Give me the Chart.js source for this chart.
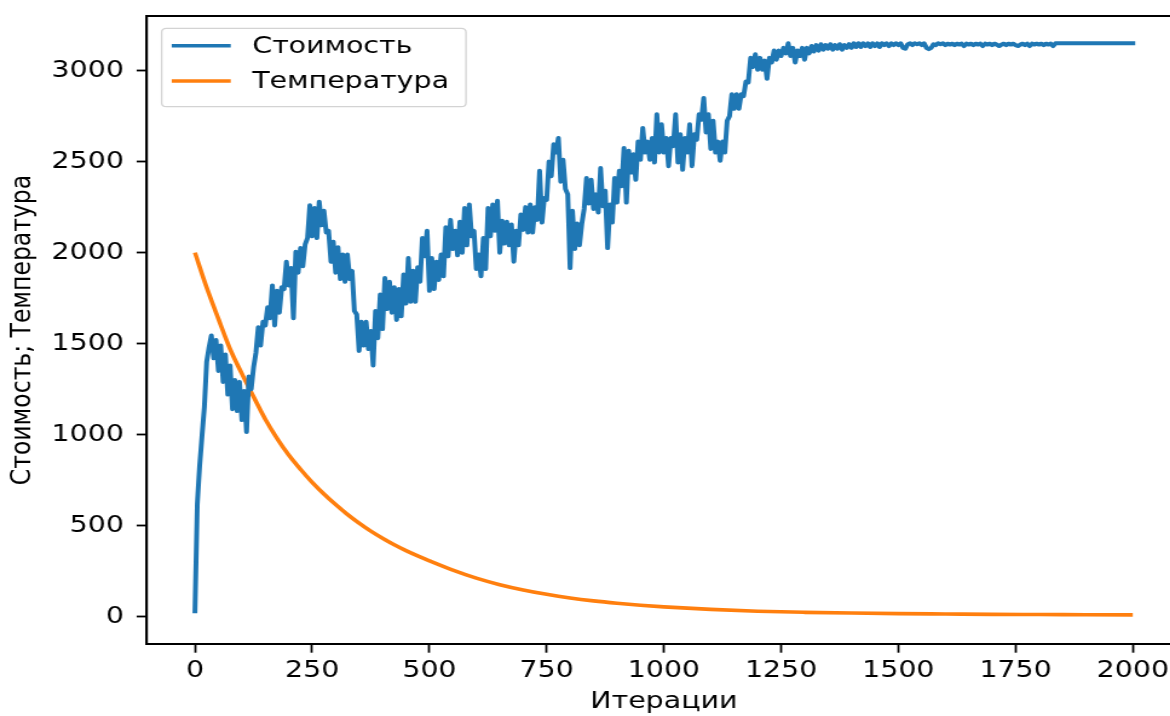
<!DOCTYPE html>
<html>
<head>
<meta charset="utf-8">
<script src="https://cdn.jsdelivr.net/npm/chart.js@4/dist/chart.umd.min.js"></script>
<style>
html, body { margin: 0; padding: 0; overflow: hidden; background: #ffffff; width: 1170px; height: 716px; }
#wrap { width: 990px; height: 716px; transform: scaleX(1.21); transform-origin: 0 0; }
canvas { display: block; }
</style>
</head>
<body>
<div id="wrap"><canvas id="c" width="990" height="716"></canvas></div>
<script>
// ---------- data ----------
const seriesLabels = ['Стоимость', 'Температура'];
const xAxisTitle = 'Итерации';
const yAxisTitle = 'Стоимость; Температура';
const xTickValues = [0, 250, 500, 750, 1000, 1250, 1500, 1750, 2000];
const yTickValues = [0, 500, 1000, 1500, 2000, 2500, 3000];

// cost, one reading every 5 iterations (0 .. 2000)
const costStep = 5;
const costValues = [
  30,620,830,990,1150,1400,1480,1545,1420,1520,1350,1490,1290,1440,1220,1380,1140,1300,1130,1290,
  1080,1240,1015,1320,1250,1370,1450,1590,1490,1620,1600,1700,1640,1820,1600,1790,1670,1810,1800,1950,
  1820,1915,1640,2005,1890,2025,1925,2045,2080,2260,2090,2245,2080,2280,2150,2230,2110,2120,1950,2060,
  1890,2030,1855,1990,1840,1990,1855,1900,1680,1660,1460,1620,1490,1620,1470,1570,1380,1680,1530,1770,
  1580,1860,1690,1840,1670,1810,1630,1800,1650,1880,1720,1970,1730,1900,1730,1920,1840,2080,1980,2120,
  1790,1970,1800,1950,1850,1990,1870,2140,1980,2180,2020,2120,1985,2170,2000,2245,2040,2265,2090,2120,
  1910,1990,1870,2080,1910,2245,2090,2265,2120,2285,2000,2175,2050,2170,2040,2155,1950,2120,2040,2210,
  2125,2250,2110,2265,2110,2250,2180,2450,2165,2300,2290,2500,2420,2595,2550,2630,2390,2510,2350,2320,
  1915,2230,2020,2160,2040,2160,2240,2410,2270,2400,2240,2320,2220,2465,2255,2340,2025,2265,2165,2410,
  2275,2450,2365,2575,2275,2560,2440,2540,2400,2610,2510,2685,2550,2610,2510,2630,2495,2760,2550,2705,
  2550,2630,2475,2630,2585,2760,2495,2650,2455,2630,2550,2705,2475,2650,2620,2760,2730,2850,2660,2760,
  2570,2725,2550,2610,2505,2610,2550,2725,2750,2870,2790,2870,2790,2870,2860,2940,2935,3070,3020,3090,
  3005,3070,3005,3055,2955,3070,3045,3110,3060,3110,3080,3125,3095,3150,3080,3125,3045,3110,3080,3125,
  3060,3125,3095,3135,3105,3140,3110,3145,3115,3140,3120,3145,3115,3140,3120,3145,3115,3140,3125,3145,
  3125,3150,3130,3150,3130,3150,3135,3150,3130,3150,3135,3150,3130,3150,3140,3150,3135,3150,3140,3150,
  3140,3150,3125,3120,3145,3150,3140,3150,3145,3150,3140,3150,3125,3118,3125,3145,3140,3150,3145,3150,
  3140,3148,3143,3148,3140,3148,3143,3148,3135,3148,3143,3148,3140,3148,3143,3148,3135,3148,3143,3148,
  3140,3148,3143,3135,3143,3148,3140,3148,3143,3148,3140,3135,3143,3148,3140,3148,3135,3148,3143,3148,
  3143,3148,3140,3148,3143,3148,3135,3150,3150,3150,3150,3150,3150,3150,3150,3150,3150,3150,3150,3150,
  3150,3150,3150,3150,3150,3150,3150,3150,3150,3150,3150,3150,3150,3150,3150,3150,3150,3150,3150,3150,
  3150
];

// temperature, readings at these iterations
const tempIterations = [0,25,50,75,100,125,150,175,200,225,250,275,300,325,350,375,400,425,450,475,500,
  550,600,650,700,750,800,850,900,950,1000,1100,1200,1300,1400,1500,1600,1700,1800,1900,2000];
const tempValues = [2000,1808,1636,1470,1335,1208,1085,980,888,810,738,674,616,562,514,470,431,395,363,334,307,
  256,212,176,147,123,103,87,74,63,54,40,30,24,20,17,15,13,12,11,10];

const seriesColors = ['#1f77b4', '#ff7f0e'];

// ---------- chart ----------
const FONT = { family: 'DejaVu Sans', size: 23.5, lineHeight: 1.2 };
Chart.defaults.font.family = FONT.family;
Chart.defaults.font.size = FONT.size;
Chart.defaults.color = '#000000';

const framePlugin = {
  id: 'frame',
  afterDatasetsDraw(chart) {
    const a = chart.chartArea, ctx = chart.ctx;
    ctx.save();
    ctx.strokeStyle = '#000000';
    ctx.lineWidth = 2;
    ctx.strokeRect(a.left, a.top, a.right - a.left, a.bottom - a.top);
    ctx.restore();
  }
};

const legendPlugin = {
  id: 'mplLegend',
  afterDraw(chart, args, o) {
    const ctx = chart.ctx, a = chart.chartArea;
    const x0 = a.left + o.offsetX, y0 = a.top + o.offsetY;
    ctx.save();
    const r = 4;
    ctx.beginPath();
    ctx.moveTo(x0 + r, y0);
    ctx.lineTo(x0 + o.width - r, y0);
    ctx.quadraticCurveTo(x0 + o.width, y0, x0 + o.width, y0 + r);
    ctx.lineTo(x0 + o.width, y0 + o.height - r);
    ctx.quadraticCurveTo(x0 + o.width, y0 + o.height, x0 + o.width - r, y0 + o.height);
    ctx.lineTo(x0 + r, y0 + o.height);
    ctx.quadraticCurveTo(x0, y0 + o.height, x0, y0 + o.height - r);
    ctx.lineTo(x0, y0 + r);
    ctx.quadraticCurveTo(x0, y0, x0 + r, y0);
    ctx.closePath();
    ctx.fillStyle = 'rgba(255,255,255,0.8)';
    ctx.fill();
    ctx.strokeStyle = '#d3d3d3';
    ctx.lineWidth = 1.3;
    ctx.stroke();
    chart.data.datasets.forEach((ds, i) => {
      const cy = y0 + o.firstRow + i * o.rowGap;
      ctx.beginPath();
      ctx.strokeStyle = ds.borderColor;
      ctx.lineWidth = o.lineWidth;
      ctx.lineCap = 'butt';
      ctx.moveTo(x0 + o.lineStart, cy);
      ctx.lineTo(x0 + o.lineStart + o.lineLen, cy);
      ctx.stroke();
      ctx.fillStyle = '#000000';
      ctx.font = FONT.size + 'px "' + FONT.family + '"';
      ctx.textBaseline = 'middle';
      ctx.textAlign = 'left';
      ctx.fillText(ds.label, x0 + o.textStart, cy + 1);
    });
    ctx.restore();
  }
};

const costPoints = costValues.map((v, k) => ({ x: k * costStep, y: v }));
const tempPoints = tempValues.map((v, k) => ({ x: tempIterations[k], y: v }));

new Chart(document.getElementById('c'), {
  type: 'line',
  data: {
    datasets: [
      { label: seriesLabels[0], data: costPoints, borderColor: seriesColors[0], backgroundColor: seriesColors[0],
        borderWidth: 4, pointRadius: 0, tension: 0, borderJoinStyle: 'round', borderCapStyle: 'square', fill: false },
      { label: seriesLabels[1], data: tempPoints, borderColor: seriesColors[1], backgroundColor: seriesColors[1],
        borderWidth: 3.6, pointRadius: 0, cubicInterpolationMode: 'monotone', borderJoinStyle: 'round', fill: false }
    ]
  },
  options: {
    responsive: false,
    devicePixelRatio: 1,
    animation: false,
    events: [],
    layout: { padding: { left: 0, top: 16, right: 13.9, bottom: 0 } },
    plugins: {
      legend: { display: false },
      tooltip: { enabled: false },
      mplLegend: { offsetX: 12.4, offsetY: 12.3, width: 251.5, height: 78.4, lineWidth: 3.4,
                   firstRow: 17.4, rowGap: 35.3, lineStart: 8.3, lineLen: 48.8, textStart: 74.9 }
    },
    scales: {
      x: {
        type: 'linear', min: -103, max: 2103,
        afterBuildTicks: s => { s.ticks = xTickValues.map(v => ({ value: v })); },
        afterFit: s => { s.height = 72; s.paddingLeft = 0; s.paddingRight = 0; },
        ticks: { padding: 4, maxRotation: 0, autoSkip: false, callback: v => String(v), font: FONT },
        grid: { display: true, drawOnChartArea: false, drawTicks: true, tickLength: 8.7, tickWidth: 1.8, tickColor: '#000000' },
        border: { display: true, color: '#000000', width: 2 },
        title: { display: true, text: xAxisTitle, font: FONT, padding: { top: 0, bottom: 0 }, color: '#000000' }
      },
      y: {
        type: 'linear', min: -150, max: 3300,
        afterBuildTicks: s => { s.ticks = yTickValues.map(v => ({ value: v })); },
        afterFit: s => { s.width = 121.2; s.paddingTop = 0; s.paddingBottom = 0; },
        ticks: { padding: 10.5, autoSkip: false, callback: v => String(v), font: FONT },
        grid: { display: true, drawOnChartArea: false, drawTicks: true, tickLength: 8.3, tickWidth: 1.8, tickColor: '#000000' },
        border: { display: true, color: '#000000', width: 2 },
        title: { display: true, text: yAxisTitle, font: FONT, padding: { top: 5, bottom: 0 }, color: '#000000' }
      }
    }
  },
  plugins: [framePlugin, legendPlugin]
});
</script>
</body>
</html>
